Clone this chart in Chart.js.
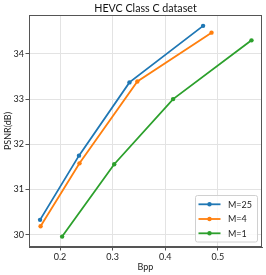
<!DOCTYPE html>
<html><head><meta charset="utf-8">
<script src="https://cdn.jsdelivr.net/npm/chart.js@4/dist/chart.umd.min.js"></script>
<style>html,body{margin:0;padding:0;background:#fff}#w{width:266px;height:275px}</style>
</head><body><div id="w"><canvas id="c"></canvas></div>
<script>
const chartTitle = "HEVC Class C dataset";
const seriesNames = ["M=25", "M=4", "M=1"];
const bppM25 = [0.162, 0.236, 0.332, 0.472];
const psnrM25 = [30.33, 31.75, 33.37, 34.62];
const bppM4 = [0.163, 0.237, 0.347, 0.488];
const psnrM4 = [30.19, 31.58, 33.39, 34.47];
const bppM1 = [0.204, 0.303, 0.415, 0.564];
const psnrM1 = [29.96, 31.56, 33.00, 34.30];
const xTicks = [0.2, 0.3, 0.4, 0.5];
const yTicks = [30, 31, 32, 33, 34];
const colors = ["#1f77b4", "#ff7f0e", "#2ca02c"];
const FONT = "Lato";

function pts(xs, ys){ return xs.map((x,i)=>({x:x, y:ys[i]})); }
const datasets = [[bppM25,psnrM25],[bppM4,psnrM4],[bppM1,psnrM1]].map((d,i)=>({
  label: seriesNames[i], data: pts(d[0], d[1]), showLine: true,
  borderColor: colors[i], backgroundColor: colors[i], borderWidth: 1.8,
  pointRadius: 2.2, pointHoverRadius: 2.2, pointBorderWidth: 0
}));

const frame = {
  id: 'frame',
  afterDraw(chart){
    const {ctx, chartArea:a} = chart;
    ctx.save();
    ctx.strokeStyle = '#555'; ctx.lineWidth = 1;
    ctx.strokeRect(Math.round(a.left)+0.5, Math.round(a.top)+0.5, Math.round(a.right-a.left)-1, Math.round(a.bottom-a.top)-1);
    // title
    ctx.fillStyle = '#111'; ctx.font = '10.7px ' + FONT;
    ctx.textAlign = 'center'; ctx.textBaseline = 'alphabetic';
    ctx.fillText(chartTitle, (a.left + a.right) / 2, 11.8);
    // legend
    const bx = 195.5, by = 195.5, bw = 62, bh = 46.5;
    ctx.fillStyle = 'rgba(255,255,255,0.8)';
    ctx.strokeStyle = '#d0d0d0';
    ctx.beginPath();
    ctx.roundRect(bx, by, bw, bh, 2);
    ctx.fill(); ctx.stroke();
    const rows = [204.3, 219, 233.3];
    chart.data.datasets.forEach((ds, i) => {
      const y = rows[i];
      ctx.strokeStyle = ds.borderColor; ctx.lineWidth = 1.8;
      ctx.beginPath(); ctx.moveTo(198.5, y); ctx.lineTo(220.5, y); ctx.stroke();
      ctx.fillStyle = ds.borderColor;
      ctx.beginPath(); ctx.arc(209.5, y, 2.2, 0, Math.PI*2); ctx.fill();
      ctx.fillStyle = '#222'; ctx.font = '9px ' + FONT;
      ctx.textBaseline = 'middle'; ctx.textAlign = 'left';
      ctx.fillText(ds.label, 228, y + 0.5);
    });
    ctx.restore();
  }
};

new Chart(document.getElementById('c'), {
  type: 'scatter',
  data: { datasets },
  plugins: [frame],
  options: {
    responsive: true, maintainAspectRatio: false, animation: false,
    layout: { padding: { left: 0, right: 4, top: 15, bottom: 0 } },
    plugins: {
      legend: { display: false },
      tooltip: { enabled: false },
      title: { display: false }
    },
    scales: {
      x: {
        type: 'linear', min: 0.141, max: 0.584,
        afterBuildTicks: s => { s.ticks = xTicks.map(v => ({value: v})); },
        afterFit: s => { s.height = 28; },
        ticks: { color: '#222', font: { family: FONT, size: 9 }, padding: 1.5,
          callback: v => v.toFixed(1), maxRotation: 0 },
        grid: { color: '#e3e3e3', tickColor: '#555', tickLength: 3.5, lineWidth: 1 },
        border: { color: '#555' },
        title: { display: true, text: 'Bpp', color: '#222', font: { family: FONT, size: 9 }, padding: { top: 0, bottom: 3 } }
      },
      y: {
        type: 'linear', min: 29.73, max: 34.86,
        afterBuildTicks: s => { s.ticks = yTicks.map(v => ({value: v})); },
        afterFit: s => { s.width = 29; },
        ticks: { color: '#222', font: { family: FONT, size: 9 }, padding: 1.5,
          callback: v => String(v) },
        grid: { color: '#e3e3e3', tickColor: '#555', tickLength: 3.5, lineWidth: 1 },
        border: { color: '#555' },
        title: { display: true, text: 'PSNR(dB)', color: '#222', font: { family: FONT, size: 9 }, padding: { top: 2.5, bottom: 0 } }
      }
    }
  }
});
</script></body></html>
